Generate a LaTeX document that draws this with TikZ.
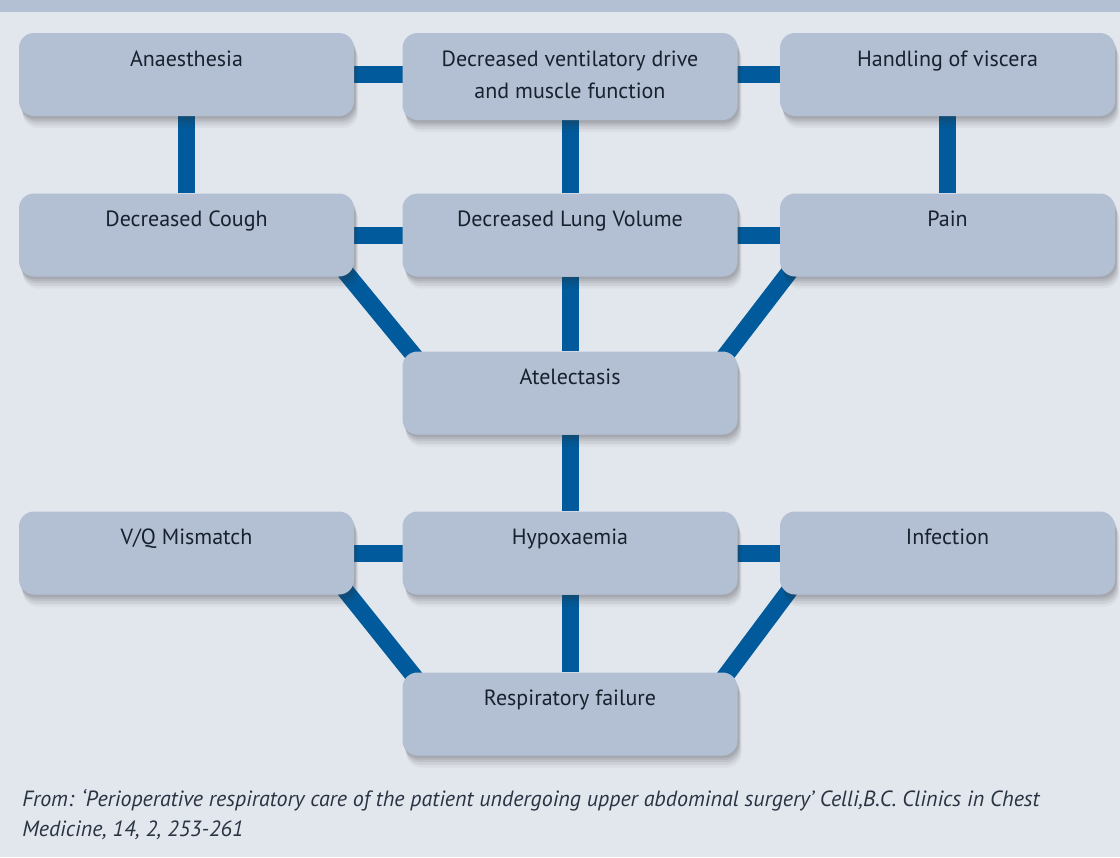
\documentclass[tikz,border=0pt]{standalone}
\usepackage{fontspec}
\setmainfont{PT Sans}
\usetikzlibrary{shadows,calc}
\definecolor{page}{HTML}{E2E7EE}
\definecolor{cardfill}{HTML}{B3C0D3}
\definecolor{linkblue}{HTML}{005A9C}
\definecolor{ink}{HTML}{18212E}
\definecolor{cite}{HTML}{2A3342}
\newcommand{\cardfont}{\fontsize{16.5}{24}\selectfont}
\newcommand{\citefont}{\fontsize{16.5}{22.5}\selectfont\itshape}
\newcommand{\cardtext}[2][62.25pt]{\parbox[c][#1][t]{245pt}{\centering\rule{0pt}{24.75pt}#2}}
\pgfdeclarelayer{base}
\pgfdeclarelayer{back}
\pgfsetlayers{base,back,main}

\begin{document}
\begin{tikzpicture}[x=0.75pt,y=-0.75pt,
  card/.style={fill=cardfill,rounded corners=11.25pt,inner sep=0pt,minimum width=251.25pt,text=ink,font=\cardfont,
    drop shadow={shadow xshift=3pt,shadow yshift=-9pt,opacity=0.05,fill=black!80},
    drop shadow={shadow xshift=2.5pt,shadow yshift=-7pt,opacity=0.07,fill=black!80},
    drop shadow={shadow xshift=2pt,shadow yshift=-5pt,opacity=0.08,fill=black!80},
    drop shadow={shadow xshift=1.5pt,shadow yshift=-3.5pt,opacity=0.09,fill=black!80},
    drop shadow={shadow xshift=1pt,shadow yshift=-2pt,opacity=0.10,fill=black!80}},
  bar/.style={linkblue,line width=12.75pt}]
\begin{pgfonlayer}{base}
\fill[page] (0,0) rectangle (1120,857);
\fill[cardfill] (0,0) rectangle (1120,12);
\end{pgfonlayer}
\useasboundingbox (0,0) rectangle (1120,857);
\node[card] (anaes) at (186.5,74.5) {\cardtext{Anaesthesia}};
\node[card] (drive) at (570,76.5) {\cardtext[65.25pt]{Decreased ventilatory drive\\and muscle function}};
\node[card] (viscera) at (947.5,74.5) {\cardtext{Handling of viscera}};
\node[card] (cough) at (186.5,235) {\cardtext{Decreased Cough}};
\node[card] (volume) at (570,235) {\cardtext{Decreased Lung Volume}};
\node[card] (pain) at (947.5,235) {\cardtext{Pain}};
\node[card] (atel) at (570,393) {\cardtext{Atelectasis}};
\node[card] (vq) at (186.5,553) {\cardtext{V/Q Mismatch}};
\node[card] (hypox) at (570,553) {\cardtext{Hypoxaemia}};
\node[card] (infect) at (947.5,553) {\cardtext{Infection}};
\node[card] (resp) at (570,714) {\cardtext{Respiratory failure}};
\begin{pgfonlayer}{back}
\draw[bar] (anaes) -- (viscera);
\draw[bar] (cough) -- (pain);
\draw[bar] (vq) -- (infect);
\draw[bar] (anaes) -- (cough);
\draw[bar] (drive) -- (volume);
\draw[bar] (viscera) -- (pain);
\draw[bar] (volume) -- (atel);
\draw[bar] (atel) -- (hypox);
\draw[bar] (hypox) -- (resp);
\draw[bar] ($(cough.south east)+(-19,-17)$) -- ($(atel.north west)+(23,18)$);
\draw[bar] ($(pain.south west)+(19,-17)$) -- ($(atel.north east)+(-23,18)$);
\draw[bar] ($(vq.south east)+(-19,-17)$) -- ($(resp.north west)+(23,18)$);
\draw[bar] ($(infect.south west)+(19,-17)$) -- ($(resp.north east)+(-23,18)$);
\end{pgfonlayer}
\node[anchor=north west,inner sep=0pt,align=left,text=cite,font=\citefont] (source) at (22,789) {From: ‘Perioperative respiratory care of the patient undergoing upper abdominal surgery’ Celli,B.C. Clinics in Chest\\Medicine, 14, 2, 253-261};
\end{tikzpicture}
\end{document}
